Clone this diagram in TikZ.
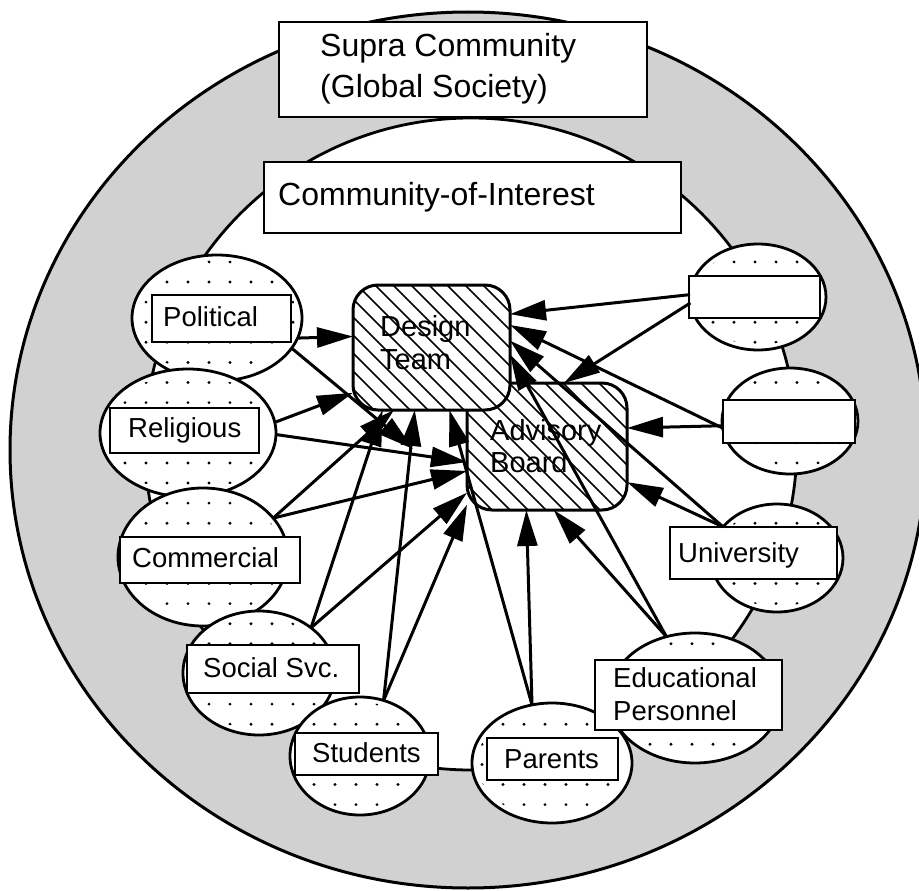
\documentclass[tikz,border=0pt]{standalone}
\usepackage{fontspec}
\setmainfont{Liberation Sans}
\usetikzlibrary{arrows.meta,shapes.geometric}
\newcommand\dotell[4]{%
  \pgfmathtruncatemacro\dxa{floor((#1-#3-125)/21)}%
  \pgfmathtruncatemacro\dxb{ceil((#1+#3-125)/21)}%
  \pgfmathtruncatemacro\dya{floor((#2-#4-282)/20.1)}%
  \pgfmathtruncatemacro\dyb{ceil((#2+#4-282)/20.1)}%
  \begin{scope}
    \clip (#1,#2) ellipse [x radius=#3-5, y radius=#4-5];
    \foreach \i in {\dxa,...,\dxb}{\foreach \j in {\dya,...,\dyb}{%
      \fill (125+21*\i,282+20.1*\j) circle [radius=1.6pt];}}
  \end{scope}}
\tikzset{
  ell/.style={ellipse, draw, line width=2.8pt, fill=white, inner sep=0pt, outer sep=0pt},
  lbox/.style={rectangle, draw, line width=2.8pt, fill=white, inner sep=0pt, outer sep=0pt},
  rbox/.style={rectangle, rounded corners=25pt, fill=white, inner sep=0pt, outer sep=0pt},
  rline/.style={line width=3pt, rounded corners=25pt},
  lbl/.style={anchor=base west, inner sep=0pt, font=\fontsize{27.5}{30}\selectfont},
  big/.style={anchor=base west, inner sep=0pt, font=\fontsize{32}{36}\selectfont},
  mid/.style={anchor=base west, inner sep=0pt, font=\fontsize{29}{32}\selectfont},
  arr/.style={line width=3pt, -{Triangle[length=36pt,width=20pt]}},
  hatch/.style={line width=1.7pt},
}
\begin{document}
\begin{tikzpicture}[x=1pt,y=-1pt]
\useasboundingbox (0,0) rectangle (919,891);
\clip (0,0) rectangle (919,891);
\fill[white] (0,0) rectangle (919,891);
% rings
\node[ellipse, draw, line width=3pt, fill=black!18, inner sep=0pt, outer sep=0pt,
      minimum width=916pt, minimum height=876pt] (outer) at (468,450) {};
\node[circle, draw, line width=2.8pt, fill=white, inner sep=0pt, outer sep=0pt,
      minimum size=652pt] (inner) at (471,444) {};
% top boxes
\node[lbox, minimum width=368pt, minimum height=95pt] (supra) at (463,69.5) {};
\node[big] (supraA) at (320,57) {Supra Community};
\node[big] (supraB) at (320,98) {(Global Society)};
\node[lbox, minimum width=417pt, minimum height=71pt] (coibox) at (472.5,197.5) {};
\node[big] (coiT) at (278,205) {Community-of-Interest};
% ellipses
\node[ell, minimum width=136pt, minimum height=106pt] (tr) at (758,297) {};
\dotell{758}{297}{68}{53}
\node[ell, minimum width=136pt, minimum height=106pt] (mr) at (790,421) {};
\dotell{790}{421}{68}{53}
\node[ell, minimum width=132pt, minimum height=108pt] (uni) at (777,558) {};
\dotell{777}{558}{66}{54}
\node[ell, minimum width=172pt, minimum height=130pt] (edu) at (695,698) {};
\dotell{695}{698}{86}{65}
\node[ell, minimum width=170pt, minimum height=126pt] (pol) at (217,318) {};
\dotell{217}{318}{85}{63}
\node[ell, minimum width=176pt, minimum height=128pt] (rel) at (188,433) {};
\dotell{188}{433}{88}{64}
\node[ell, minimum width=170pt, minimum height=138pt] (com) at (203,557) {};
\dotell{203}{557}{85}{69}
\node[ell, minimum width=152pt, minimum height=124pt] (soc) at (259,673) {};
\dotell{259}{673}{76}{62}
\node[ell, minimum width=140pt, minimum height=118pt] (stu) at (360,756) {};
\dotell{360}{756}{70}{59}
\node[ell, minimum width=160pt, minimum height=120pt] (par) at (552,763) {};
\dotell{552}{763}{80}{60}
% label boxes
\node[lbox, minimum width=131pt, minimum height=42pt] (trbox) at (754.5,297) {};
\node[lbox, minimum width=132pt, minimum height=43pt] (mrbox) at (789,421.5) {};
\node[lbox, minimum width=167pt, minimum height=52pt] (unibox) at (753.5,553) {};
\node[lbox, minimum width=187pt, minimum height=70pt] (edubox) at (688.5,695) {};
\node[lbox, minimum width=139pt, minimum height=47pt] (polbox) at (221.5,318.5) {};
\node[lbox, minimum width=149pt, minimum height=45pt] (relbox) at (184.5,430.5) {};
\node[lbox, minimum width=180pt, minimum height=46pt] (combox) at (210,560) {};
\node[lbox, minimum width=172pt, minimum height=48pt] (socbox) at (273,669) {};
\node[lbox, minimum width=143pt, minimum height=42pt] (stubox) at (366.5,754) {};
\node[lbox, minimum width=131pt, minimum height=42pt] (parbox) at (552.5,759) {};
\node[lbl] (uniT) at (678,562) {University};
\node[lbl] (eduA) at (613,687) {Educational};
\node[lbl] (eduB) at (613,720) {Personnel};
\node[lbl] (polT) at (163,326) {Political};
\node[lbl] (relT) at (128,437) {Religious};
\node[lbl] (comT) at (132,567) {Commercial};
\node[lbl] (socT) at (203,677) {Social Svc.};
\node[lbl] (stuT) at (312,762) {Students};
\node[lbl] (parT) at (504,768) {Parents};
% advisory board
\node[rbox, minimum width=160pt, minimum height=127pt] (ab) at (547,446.5) {};
\begin{scope}
  \clip[rounded corners=25pt] (ab.south west) rectangle (ab.north east);
  \foreach \c in {-90,-72,...,260} \draw[hatch] (\c+270,270) -- (\c+530,530);
\end{scope}
\draw[rline] (ab.south west) rectangle (ab.north east);
% design team
\node[rbox, minimum width=157pt, minimum height=125pt] (dt) at (431.5,347.5) {};
\begin{scope}
  \clip[rounded corners=25pt] (dt.south west) rectangle (dt.north east);
  \foreach \c in {-90,-72,...,260} \draw[hatch] (\c+270,270) -- (\c+530,530);
\end{scope}
\draw[rline] (dt.south west) rectangle (dt.north east);
\node[mid] (dtA) at (380,336) {Design};
\node[mid] (dtB) at (380,369) {Team};
\node[mid] (abA) at (490,440) {Advisory};
\node[mid] (abB) at (490,472) {Board};
% connectors
\coordinate (polEnd) at (413,449);
\draw[arr] (pol.-14) -- (dt.172.9);
\draw[arr] (pol.-22) -- (polEnd);
\draw[arr] (rel.7.6) -- (dt.210.3);
\draw[arr] (rel.-1) -- (ab.191.7);
\draw[arr] (com.29.7) -- (dt.239.7);
\draw[arr] (com.29.7) -- (ab.197.7);
\draw[arr] (soc.41) -- (dt.232.2);
\draw[arr] (soc.41) -- (ab.210.2);
\draw[arr] (stu.67) -- (dt.255.2);
\draw[arr] (stu.67) -- (ab.216.2);
\draw[arr] (par.109) -- (dt.286.5);
\draw[arr] (par.109) -- (ab.252.5);
\draw[arr] (edu.115.5) -- (ab.-84.6);
\draw[arr] (edu.115.5) -- (dt.-5.5);
\draw[arr] (uni.150) -- (ab.-24.5);
\draw[arr] (uni.150) -- (dt.5.5);
\draw[arr] (mr.184) -- (ab.13);
\draw[arr] (mr.186) -- (dt.16);
\draw[arr] (tr.178) -- (dt.23.7);
\draw[arr] (tr.185) -- (ab.75.9);
\end{tikzpicture}
\end{document}
